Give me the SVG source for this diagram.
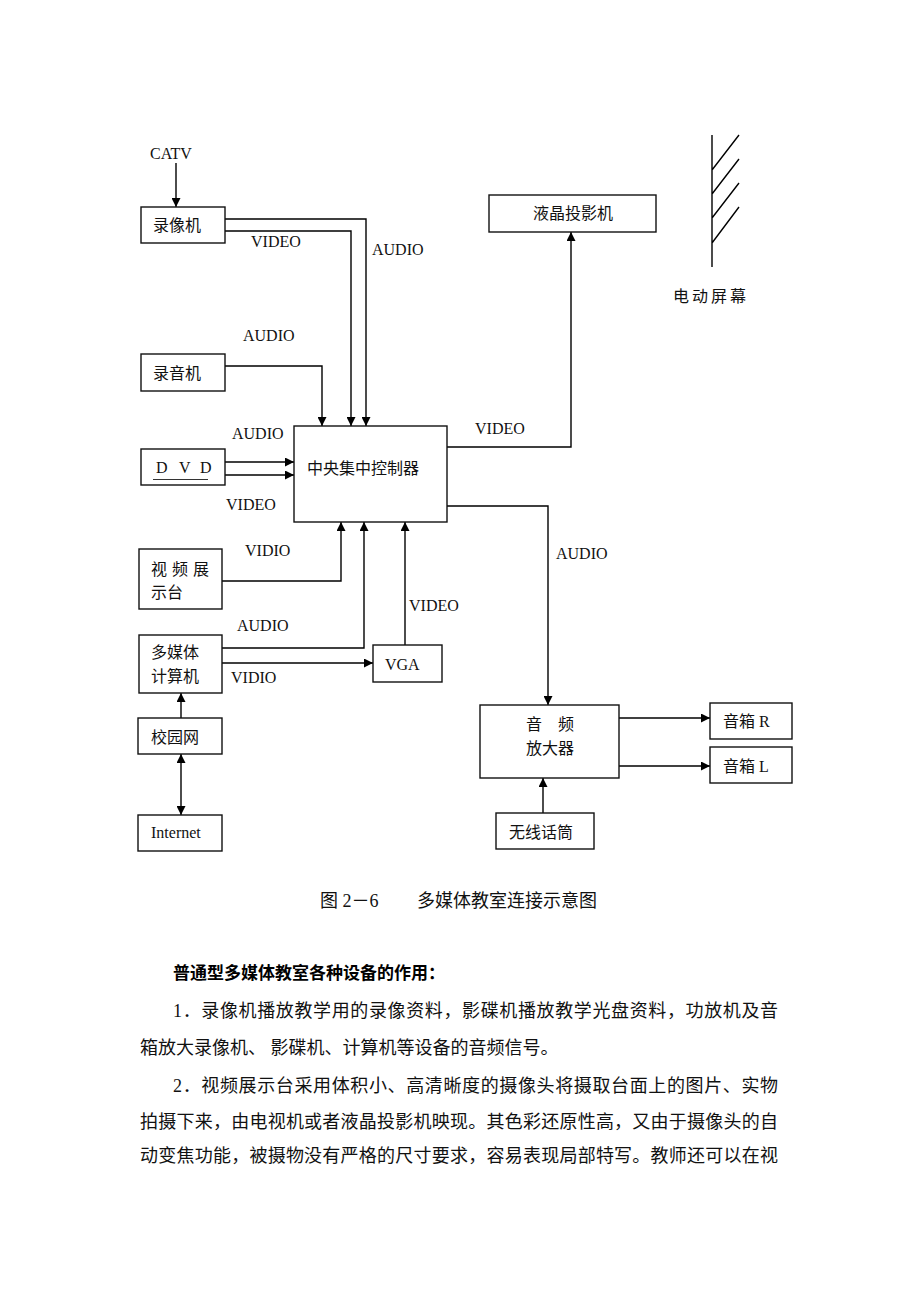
<svg xmlns="http://www.w3.org/2000/svg" width="920" height="1302" viewBox="0 0 920 1302">
<style>
.box{fill:#fff;stroke:#111;stroke-width:1.4}
.ln{fill:none;stroke:#000;stroke-width:1.4}
.t{font-family:"Liberation Serif","Noto Sans CJK SC",serif;font-size:16px;fill:#111}
.lb{font-family:"Liberation Serif",serif;font-size:16px;fill:#111}
.body{font-family:"Liberation Serif","Noto Sans CJK SC",serif;font-size:18px;fill:#111}
.hd{font-family:"Noto Sans CJK SC",sans-serif;font-size:17px;font-weight:bold;fill:#000}
</style>
<defs>
<marker id="ah" viewBox="0 0 10 10" refX="10" refY="5" markerWidth="9" markerHeight="9" markerUnits="userSpaceOnUse" orient="auto-start-reverse">
<path d="M0,0 L10,5 L0,10 z" fill="#000"/>
</marker>
</defs>
<rect width="920" height="1302" fill="#fff"/>

<g id="connectors">
<path class="ln" d="M176,163 V207" marker-end="url(#ah)"/>
<path class="ln" d="M225,219 H366 V426" marker-end="url(#ah)"/>
<path class="ln" d="M225,231 H351 V426" marker-end="url(#ah)"/>
<path class="ln" d="M225,366 H322 V426" marker-end="url(#ah)"/>
<path class="ln" d="M225,462 H294" marker-end="url(#ah)"/>
<path class="ln" d="M225,475 H294" marker-end="url(#ah)"/>
<path class="ln" d="M222,581 H341 V522" marker-end="url(#ah)"/>
<path class="ln" d="M222,648 H364 V522" marker-end="url(#ah)"/>
<path class="ln" d="M222,663 H373" marker-end="url(#ah)"/>
<path class="ln" d="M405,645 V522" marker-end="url(#ah)"/>
<path class="ln" d="M181,718 V693" marker-end="url(#ah)"/>
<path class="ln" d="M181,754 V815" marker-start="url(#ah)" marker-end="url(#ah)"/>
<path class="ln" d="M447,447 H571 V232" marker-end="url(#ah)"/>
<path class="ln" d="M447,506 H548 V705" marker-end="url(#ah)"/>
<path class="ln" d="M619,718 H710" marker-end="url(#ah)"/>
<path class="ln" d="M619,766 H710" marker-end="url(#ah)"/>
<path class="ln" d="M543,813 V778" marker-end="url(#ah)"/>
<text class="lb" x="150" y="159">CATV</text>
<text class="lb" x="251" y="247">VIDEO</text>
<text class="lb" x="372" y="255">AUDIO</text>
<text class="lb" x="243" y="341">AUDIO</text>
<text class="lb" x="232" y="439">AUDIO</text>
<text class="lb" x="226" y="510">VIDEO</text>
<text class="lb" x="245" y="556">VIDIO</text>
<text class="lb" x="237" y="631">AUDIO</text>
<text class="lb" x="231" y="683">VIDIO</text>
<text class="lb" x="409" y="611">VIDEO</text>
<text class="lb" x="475" y="434">VIDEO</text>
<text class="lb" x="556" y="559">AUDIO</text>
</g>

<g id="n-luxiangji"><rect class="box" x="141" y="207" width="84" height="36"/><text class="t" x="153" y="231">录像机</text></g>
<g id="n-luyinji"><rect class="box" x="141" y="354" width="84" height="37"/><text class="t" x="153" y="379">录音机</text></g>
<g id="n-dvd"><rect class="box" x="141" y="449" width="84" height="36"/>
<text class="lb" x="156" y="473">D</text><text class="lb" x="179" y="473">V</text><text class="lb" x="200" y="473">D</text>
<line x1="153" y1="479.5" x2="208" y2="479.5" stroke="#333" stroke-width="1"/></g>
<g id="n-central"><rect class="box" x="294" y="426" width="153" height="96"/><text class="t" x="307" y="474">中央集中控制器</text></g>
<g id="n-shipin"><rect class="box" x="139" y="549" width="83" height="60"/>
<text class="t" x="151" y="575" letter-spacing="5">视频展</text><text class="t" x="151" y="598">示台</text></g>
<g id="n-duomeiti"><rect class="box" x="139" y="635" width="83" height="58"/>
<text class="t" x="151" y="658">多媒体</text><text class="t" x="151" y="682">计算机</text></g>
<g id="n-vga"><rect class="box" x="373" y="645" width="69" height="37"/><text class="lb" x="385" y="670">VGA</text></g>
<g id="n-xiaoyuan"><rect class="box" x="138" y="718" width="84" height="36"/><text class="t" x="151" y="743">校园网</text></g>
<g id="n-internet"><rect class="box" x="138" y="815" width="84" height="36"/><text class="lb" x="151" y="838" font-size="15">Internet</text></g>
<g id="n-projector"><rect class="box" x="489" y="195" width="167" height="37"/><text class="t" x="533" y="219">液晶投影机</text></g>
<g id="n-screen">
<path class="ln" d="M712,135 V267 M712,170 L739,135 M712,194 L739,159 M712,218 L739,183 M712,243 L739,207"/>
<text class="t" x="673" y="302" letter-spacing="3">电动屏幕</text></g>
<g id="n-amp"><rect class="box" x="480" y="705" width="139" height="73"/>
<text class="t" x="526" y="730">音</text><text class="t" x="558" y="730">频</text>
<text class="t" x="526" y="754">放大器</text></g>
<g id="n-speakerR"><rect class="box" x="710" y="703" width="82" height="36"/><text class="t" x="723" y="727">音箱 R</text></g>
<g id="n-speakerL"><rect class="box" x="710" y="747" width="82" height="36"/><text class="t" x="723" y="772">音箱 L</text></g>
<g id="n-mic"><rect class="box" x="496" y="813" width="98" height="36"/><text class="t" x="509" y="838">无线话筒</text></g>

<g id="caption">
<text class="body" x="320" y="907">图 2－6</text>
<text class="body" x="417" y="907">多媒体教室连接示意图</text>
</g>
<g id="bodytext">
<text class="hd" x="173" y="979">普通型多媒体教室各种设备的作用：</text>
<text class="body" x="173" y="1017" textLength="605" lengthAdjust="spacing">1．录像机播放教学用的录像资料，影碟机播放教学光盘资料，功放机及音</text>
<text class="body" x="140" y="1054">箱放大录像机、 影碟机、计算机等设备的音频信号。</text>
<text class="body" x="173" y="1092" textLength="605" lengthAdjust="spacing">2．视频展示台采用体积小、高清晰度的摄像头将摄取台面上的图片、实物</text>
<text class="body" x="140" y="1128" textLength="638" lengthAdjust="spacing">拍摄下来，由电视机或者液晶投影机映现。其色彩还原性高，又由于摄像头的自</text>
<text class="body" x="140" y="1162" textLength="638" lengthAdjust="spacing">动变焦功能，被摄物没有严格的尺寸要求，容易表现局部特写。教师还可以在视</text>
</g>
</svg>
